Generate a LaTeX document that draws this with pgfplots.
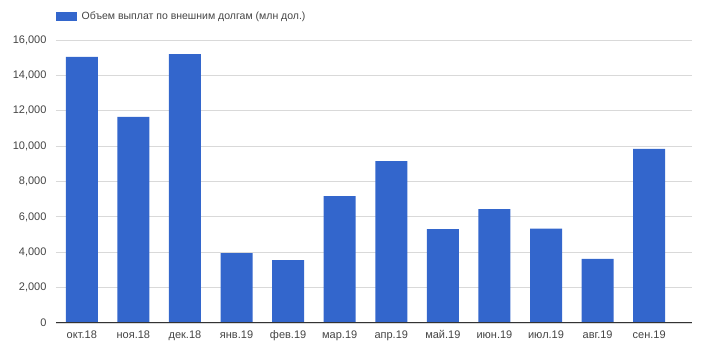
\documentclass[border=0pt]{standalone}
\usepackage{pgfplots}
\pgfplotsset{compat=1.18}
\usepackage{fontspec}
\setmainfont{Liberation Sans}
\definecolor{barblue}{HTML}{3366CC}
\definecolor{gridc}{HTML}{D9D9D9}
\definecolor{axc}{HTML}{333333}
\definecolor{txt}{HTML}{444444}
\begin{document}
\begin{tikzpicture}[x=1pt,y=1pt]
\path[use as bounding box] (0,0) rectangle (705,364);
\begin{axis}[
  at={(56pt,41pt)}, anchor=south west,
  scale only axis, width=636pt, height=283pt,
  xmin=-0.5, xmax=11.83, ymin=0, ymax=16000,
  ytick={0,2000,...,16000},
  scaled y ticks=false,
  yticklabel style={/pgf/number format/fixed, /pgf/number format/1000 sep={,}, /pgf/number format/assume math mode=true, xshift=-6pt},
  xtick={0,...,11},
  xticklabels={окт.18,ноя.18,дек.18,янв.19,фев.19,мар.19,апр.19,май.19,июн.19,июл.19,авг.19,сен.19},
  ymajorgrids, grid style={gridc, line width=0.8pt},
  axis line style={draw=none},
  major tick length=0pt,
  ticklabel style={font=\fontsize{11}{13}\selectfont, text=txt},
  xticklabel style={yshift=-4pt},
  legend style={draw=none, fill=none, inner sep=0pt, at={(axis description cs:0,1.0848)}, anchor=west,
    font=\fontsize{10.5}{13}\selectfont, text=txt, nodes={inner xsep=4.5pt, inner ysep=2pt}},
  legend image code/.code={\fill[barblue] (0pt,-4.5pt) rectangle (21pt,4.5pt);},
  clip=false,
]
\addplot[ybar, bar width=32pt, fill=barblue, draw=none] coordinates {
 (0,15050) (1,11650) (2,15200) (3,3950) (4,3560) (5,7180) (6,9150) (7,5310) (8,6440) (9,5340) (10,3620) (11,9840)};
\addlegendentry{Объем выплат по внешним долгам (млн дол.)}
\draw[axc, line width=1pt] (axis cs:-0.5,0) -- (axis cs:11.83,0);
\end{axis}
\end{tikzpicture}
\end{document}
